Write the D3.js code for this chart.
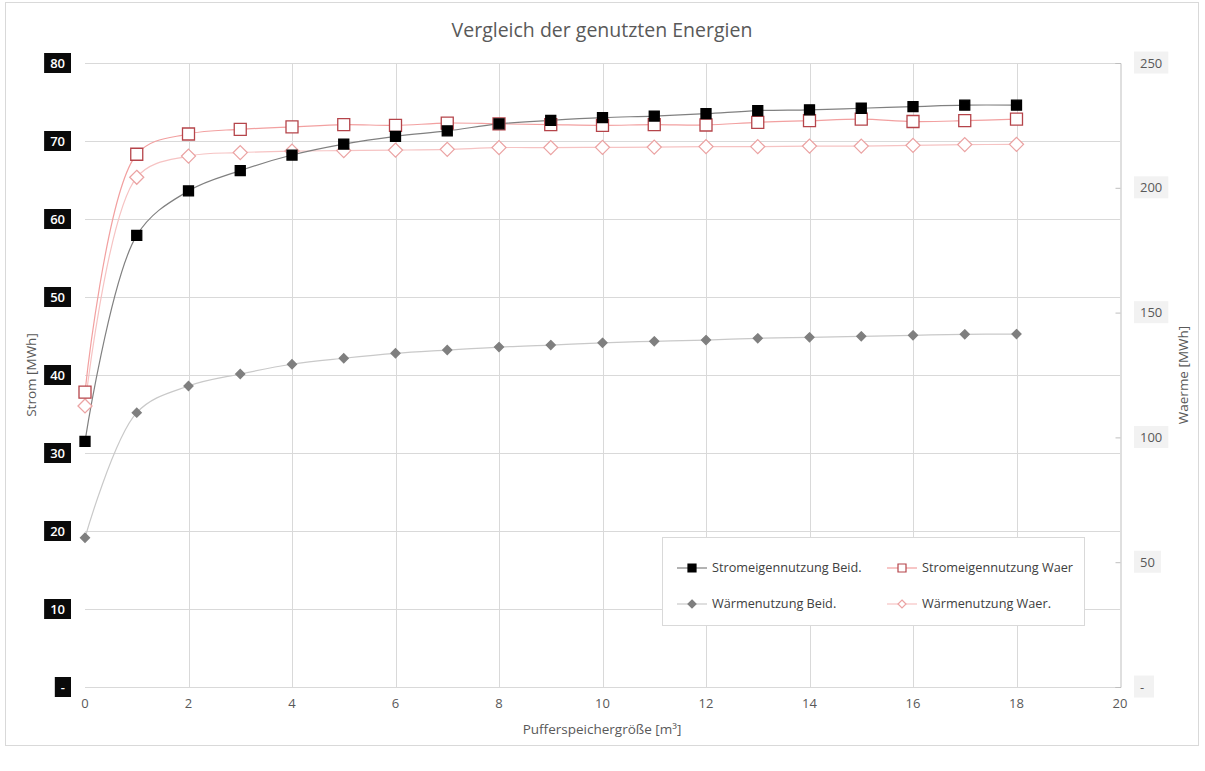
<!DOCTYPE html>
<html>
<head>
<meta charset="utf-8">
<script src="https://cdn.jsdelivr.net/npm/d3@7"></script>
<style>
  html, body { margin: 0; padding: 0; background: #fff; }
  svg { display: block; font-family: "Open Sans", "Liberation Sans", sans-serif; }
</style>
</head>
<body>
<svg id="chart" width="1205" height="771"></svg>
<script>
// Puffer storage size [m³]
const sizes = [0, 1, 2, 3, 4, 5, 6, 7, 8, 9, 10, 11, 12, 13, 14, 15, 16, 17, 18];

// Electricity self-use [MWh] (left axis)
const stromBeid = [31.5, 57.9, 63.6, 66.2, 68.2, 69.6, 70.6, 71.3, 72.2, 72.65, 73.0, 73.2, 73.5, 73.9, 74.0, 74.2, 74.4, 74.6, 74.6];
const stromWaer = [37.8, 68.3, 70.9, 71.5, 71.8, 72.1, 72.0, 72.3, 72.2, 72.1, 72.0, 72.1, 72.05, 72.4, 72.6, 72.8, 72.5, 72.6, 72.8];

// Heat use [MWh] (right axis)
const waermeBeid = [59.8, 109.9, 120.6, 125.4, 129.3, 131.7, 133.7, 135.0, 136.2, 137.0, 137.9, 138.5, 139.0, 139.7, 140.1, 140.5, 140.9, 141.3, 141.4];
const waermeWaer = [112.6, 204.2, 212.7, 214.1, 214.7, 214.9, 215.1, 215.4, 216.1, 216.1, 216.2, 216.3, 216.5, 216.5, 216.7, 216.7, 217.0, 217.3, 217.4];

// Axis ticks
const xTicks = [0, 2, 4, 6, 8, 10, 12, 14, 16, 18, 20];
const leftTicks = [0, 10, 20, 30, 40, 50, 60, 70, 80];
const rightTicks = [0, 50, 100, 150, 200, 250];
const fmtTick = v => v === 0 ? "-" : String(v);

const title = "Vergleich der genutzten Energien";
const xTitle = "Pufferspeichergröße [m³]";
const yLeftTitle = "Strom [MWh]";
const yRightTitle = "Waerme [MWh]";

const svg = d3.select("#chart");

const plot = { left: 85, right: 1120, top: 63, bottom: 687 };
const x = d3.scaleLinear().domain([0, 20]).range([plot.left, plot.right]);
const yL = d3.scaleLinear().domain([0, 80]).range([plot.bottom, plot.top]);
const yR = d3.scaleLinear().domain([0, 250]).range([plot.bottom, plot.top]);

// Outer chart border
svg.append("rect")
  .attr("x", 5.5).attr("y", 2.5).attr("width", 1193).attr("height", 743)
  .attr("fill", "#fff").attr("stroke", "#d9d9d9");

// Title
svg.append("text")
  .attr("x", 602).attr("y", 37)
  .attr("text-anchor", "middle")
  .attr("font-size", 19.5).attr("fill", "#595959")
  .text(title);

// Horizontal gridlines (left axis ticks)
svg.append("g").selectAll("line").data(leftTicks).join("line")
  .attr("x1", plot.left).attr("x2", plot.right)
  .attr("y1", d => Math.round(yL(d)) + 0.5).attr("y2", d => Math.round(yL(d)) + 0.5)
  .attr("stroke", "#d9d9d9");

// Vertical gridlines
svg.append("g").selectAll("line").data(xTicks.filter(d => d > 0 && d < 20)).join("line")
  .attr("x1", d => Math.round(x(d)) + 0.5).attr("x2", d => Math.round(x(d)) + 0.5)
  .attr("y1", plot.top).attr("y2", plot.bottom)
  .attr("stroke", "#d9d9d9");

// Right axis line with ticks
const rightAxis = svg.append("g")
  .attr("transform", `translate(${Math.round(x(20)) + 0.5},0)`)
  .call(d3.axisLeft(yR).tickValues(rightTicks).tickSize(5).tickFormat(""));
rightAxis.select(".domain").attr("stroke", "#bfbfbf");
rightAxis.selectAll(".tick line").attr("stroke", "#bfbfbf");

// Right tick labels on light grey chips
const rLab = svg.append("g").selectAll("g").data(rightTicks).join("g")
  .attr("transform", d => `translate(1134,${yR(d)})`);
rLab.append("text")
  .attr("x", 6).attr("dy", "0.35em")
  .attr("font-size", 13).attr("fill", "#595959")
  .text(fmtTick);
rLab.each(function () {
  const g = d3.select(this);
  const bb = g.select("text").node().getBBox();
  g.insert("rect", "text")
    .attr("x", 0).attr("y", bb.y - 2)
    .attr("width", d => d === 0 ? 20 : bb.width + 12).attr("height", bb.height + 4)
    .attr("fill", "#f2f2f2");
});

// Left tick labels on black chips
const lLab = svg.append("g").selectAll("g").data(leftTicks).join("g")
  .attr("transform", d => `translate(71,${yL(d)})`);
lLab.append("text")
  .attr("x", -6).attr("dy", "0.35em")
  .attr("text-anchor", "end")
  .attr("font-size", 13).attr("font-weight", 600).attr("fill", "#fff")
  .text(fmtTick);
lLab.each(function () {
  const g = d3.select(this);
  const bb = g.select("text").node().getBBox();
  g.insert("rect", "text")
    .attr("x", -bb.width - 12).attr("y", -10)
    .attr("width", bb.width + 12).attr("height", 20)
    .attr("fill", "#0a0a0a");
});

// X tick labels
svg.append("g").selectAll("text").data(xTicks).join("text")
  .attr("x", d => x(d)).attr("y", 708)
  .attr("text-anchor", "middle")
  .attr("font-size", 13).attr("fill", "#595959")
  .text(d => d);

// Axis titles
svg.append("text")
  .attr("x", 602).attr("y", 734)
  .attr("text-anchor", "middle")
  .attr("font-size", 13.5).attr("fill", "#595959")
  .text(xTitle);
svg.append("text")
  .attr("transform", `translate(36,${(plot.top + plot.bottom) / 2}) rotate(-90)`)
  .attr("text-anchor", "middle")
  .attr("font-size", 13.5).attr("fill", "#595959")
  .text(yLeftTitle);
svg.append("text")
  .attr("transform", `translate(1188,${(plot.top + plot.bottom) / 2}) rotate(-90)`)
  .attr("text-anchor", "middle")
  .attr("font-size", 13.5).attr("fill", "#595959")
  .text(yRightTitle);

// Series definitions
const series = [
  { name: "Wärmenutzung Beid.", values: waermeBeid, y: yR, line: "#c9c9c9", marker: "diamond", size: 9, fill: "#7f7f7f", stroke: "#7f7f7f" },
  { name: "Wärmenutzung Waer.", values: waermeWaer, y: yR, line: "#f6c3c3", marker: "diamond", size: 14, fill: "#fff", stroke: "#eba3a3" },
  { name: "Stromeigennutzung Waer", values: stromWaer, y: yL, line: "#f2a0a0", marker: "square", size: 12, fill: "#fff", stroke: "#b5444a" },
  { name: "Stromeigennutzung Beid.", values: stromBeid, y: yL, line: "#808080", marker: "square", size: 10, fill: "#000", stroke: "#000" }
];

function markerPath(type, s) {
  const h = s / 2;
  if (type === "square") return `M${-h},${-h}H${h}V${h}H${-h}Z`;
  return `M0,${-h}L${h},0L0,${h}L${-h},0Z`;
}

const lineGroup = svg.append("g");
series.forEach(s => {
  const pts = sizes.map((d, i) => [d, s.values[i]]);
  const gen = d3.line().x(d => x(d[0])).y(d => s.y(d[1])).curve(d3.curveCatmullRom.alpha(0.5));
  lineGroup.append("path")
    .attr("d", gen(pts))
    .attr("fill", "none").attr("stroke", s.line).attr("stroke-width", 1.2);
});
series.forEach(s => {
  svg.append("g").selectAll("path").data(sizes).join("path")
    .attr("transform", (d, i) => `translate(${x(d)},${s.y(s.values[i])})`)
    .attr("d", markerPath(s.marker, s.size))
    .attr("fill", s.fill).attr("stroke", s.stroke).attr("stroke-width", 1.3);
});

// Legend
const legend = svg.append("g");
legend.append("rect")
  .attr("x", 662.5).attr("y", 537.5).attr("width", 422).attr("height", 88)
  .attr("fill", "#fff").attr("stroke", "#d9d9d9");
const legendItems = [
  { s: series[3], cx: 692, cy: 568 },
  { s: series[2], cx: 902, cy: 568 },
  { s: series[0], cx: 692, cy: 604 },
  { s: series[1], cx: 902, cy: 604 }
];
legendItems.forEach(({ s, cx, cy }) => {
  legend.append("line")
    .attr("x1", cx - 15).attr("x2", cx + 15).attr("y1", cy).attr("y2", cy)
    .attr("stroke", s.line).attr("stroke-width", 1.2);
  legend.append("path")
    .attr("transform", `translate(${cx},${cy})`)
    .attr("d", markerPath(s.marker, 8))
    .attr("fill", s.fill).attr("stroke", s.stroke).attr("stroke-width", 1.2);
  legend.append("text")
    .attr("x", cx + 20).attr("y", cy).attr("dy", "0.35em")
    .attr("font-size", 12.7).attr("fill", "#404040")
    .text(s.name);
});
</script>
</body>
</html>
